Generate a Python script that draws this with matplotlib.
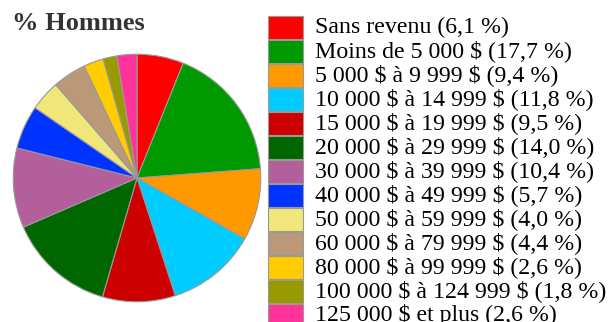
import matplotlib
matplotlib.use("Agg")
import matplotlib.pyplot as plt
from matplotlib.patches import Rectangle

# Répartition du revenu des hommes par tranche
categories = [
    "Sans revenu",
    "Moins de 5 000 $",
    "5 000 $ à 9 999 $",
    "10 000 $ à 14 999 $",
    "15 000 $ à 19 999 $",
    "20 000 $ à 29 999 $",
    "30 000 $ à 39 999 $",
    "40 000 $ à 49 999 $",
    "50 000 $ à 59 999 $",
    "60 000 $ à 79 999 $",
    "80 000 $ à 99 999 $",
    "100 000 $ à 124 999 $",
    "125 000 $ et plus",
]
percentages = [6.1, 17.7, 9.4, 11.8, 9.5, 14.0, 10.4, 5.7, 4.0, 4.4, 2.6, 1.8, 2.6]
colors = [
    "#ff0000", "#009900", "#ff9900", "#00ccff", "#cc0000", "#006600",
    "#b35f9b", "#0033ff", "#f0e67a", "#bb9878", "#ffcc00", "#999900",
    "#ff3399",
]
title = "% Hommes"

W, H = 610, 322
fig = plt.figure(figsize=(W / 100, H / 100), dpi=100)
fig.patch.set_facecolor("white")

# Pie
cx, cy, r = 137, 178, 125
ax = fig.add_axes([(cx - r) / W, (H - cy - r) / H, 2 * r / W, 2 * r / H])
ax.pie(percentages, colors=colors, startangle=90, counterclock=False,
       radius=1.0,
       wedgeprops=dict(edgecolor="#999999", linewidth=0.8))
ax.set_xlim(-1.01, 1.01)
ax.set_ylim(-1.01, 1.01)
ax.set_aspect("equal")
ax.axis("off")

# Overlay in pixel coordinates for title and legend
lg = fig.add_axes([0, 0, 1, 1])
lg.set_xlim(0, W)
lg.set_ylim(H, 0)
lg.axis("off")

serif = ["Liberation Serif", "DejaVu Serif"]
lg.text(12, 23, title, fontsize=19, fontweight="bold", color="#333333",
        family=serif, va="center", ha="left", parse_math=False)

row0, step = 27, 24
for i, (cat, val, col) in enumerate(zip(categories, percentages, colors)):
    yc = row0 + step * i
    lg.add_patch(Rectangle((268, yc - 11.5), 35, 23, facecolor=col,
                           edgecolor="#999999", linewidth=0.8))
    label = f"{cat} ({val:.1f} %)".replace(".", ",")
    lg.text(315, yc + 6, label, fontsize=17.2, color="black",
            family=serif, va="baseline", ha="left", parse_math=False)

fig.savefig("out.png", dpi=100)
